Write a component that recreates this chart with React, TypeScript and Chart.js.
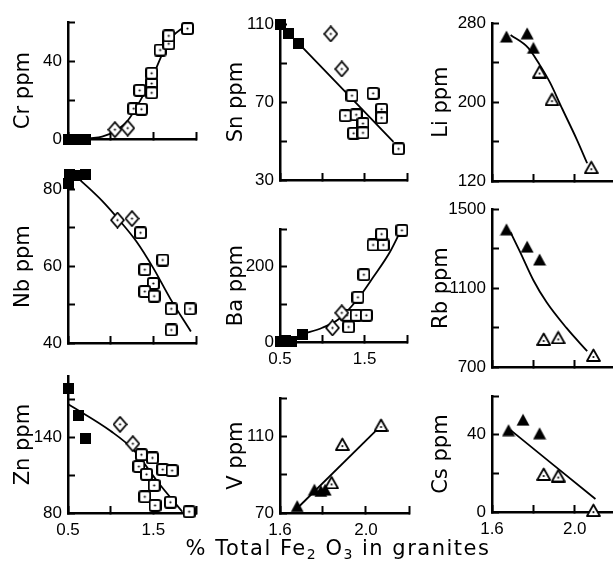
import React, { useEffect, useRef } from "react";
import { Chart, registerables } from "chart.js";
Chart.register(...registerables);

type Pt = [number, number];

// ---------- data (x = % total Fe2O3, y = ppm) ----------
// Cr
const crBlackSquares: Pt[] = [[0.5, 0], [0.6, 0], [0.71, 0]];
const crDiamonds: Pt[] = [[1.05, 4.8], [1.2, 5.6]];
const crSquares: Pt[] = [[1.27, 15.6], [1.36, 15.3], [1.34, 25], [1.48, 28.5], [1.48, 23.7], [1.48, 33.8], [1.58, 45.7], [1.68, 48.9], [1.68, 53], [1.9, 56.7]];
const crTrend: Pt[] = [[0.75, 0.3], [0.9, 1.2], [1.05, 4], [1.2, 9.5], [1.35, 20], [1.5, 33], [1.62, 45], [1.72, 52.5], [1.85, 57.3]];
// Sn
const snBlackSquares: Pt[] = [[0.5, 110], [0.6, 105], [0.72, 100]];
const snDiamonds: Pt[] = [[1.1, 105], [1.23, 87]];
const snSquares: Pt[] = [[1.35, 73.3], [1.6, 74.5], [1.27, 63], [1.4, 63.5], [1.48, 59], [1.7, 66.3], [1.7, 61.9], [1.37, 54], [1.48, 54.2], [1.9, 46]];
const snTrend: Pt[] = [[0.68, 102], [1.84, 49.6]];
// Li
const liFilledTri: Pt[] = [[1.67, 266.5], [1.77, 269.7], [1.8, 255]];
const liOpenTri: Pt[] = [[1.83, 231], [1.89, 203], [2.08, 134]];
const liTrend: Pt[] = [[1.69, 268], [1.775, 255], [1.83, 238], [1.88, 220], [1.94, 193], [2.01, 162], [2.06, 138]];
// Nb
const nbBlackSquares: Pt[] = [[0.5, 81.5], [0.52, 84], [0.6, 83.5], [0.71, 84]];
const nbDiamonds: Pt[] = [[1.08, 72], [1.25, 72.4]];
const nbSquares: Pt[] = [[1.35, 68.7], [1.61, 61.6], [1.4, 59.1], [1.5, 55.5], [1.4, 53.4], [1.51, 52.2], [1.71, 48.9], [1.93, 48.9], [1.71, 43.4]];
const nbTrend: Pt[] = [[0.64, 82.5], [0.9, 77], [1.1, 72], [1.3, 66.5], [1.5, 59.5], [1.7, 51.5], [1.94, 43]];
// Ba
const baBlackSquares: Pt[] = [[0.5, 2], [0.57, 5], [0.64, 2], [0.76, 20]];
const baDiamonds: Pt[] = [[1.12, 37.5], [1.23, 77.5]];
const baSquares: Pt[] = [[1.31, 40], [1.29, 71], [1.4, 71], [1.52, 71], [1.42, 119], [1.49, 179], [1.6, 258], [1.72, 258], [1.7, 287], [1.94, 297]];
const baTrend: Pt[] = [[0.78, 22], [1.0, 38], [1.2, 62], [1.42, 115], [1.6, 172], [1.8, 240], [1.93, 298]];
// Rb
const rbFilledTri: Pt[] = [[1.67, 1398], [1.77, 1310], [1.83, 1245]];
const rbOpenTri: Pt[] = [[1.85, 842], [1.92, 850], [2.09, 761]];
const rbTrend: Pt[] = [[1.69, 1382], [1.735, 1285], [1.8, 1140], [1.864, 1028], [1.96, 898], [2.06, 780]];
// Zn
const znBlackSquares: Pt[] = [[0.5, 178.5], [0.62, 157], [0.71, 139]];
const znDiamonds: Pt[] = [[1.11, 150], [1.26, 134.7]];
const znSquares: Pt[] = [[1.36, 126], [1.49, 123.5], [1.33, 116.7], [1.42, 110.5], [1.61, 114.3], [1.72, 113.5], [1.51, 101.8], [1.4, 92.8], [1.52, 86], [1.7, 88.5], [1.92, 81]];
const znTrend: Pt[] = [[0.5, 166], [1.0, 144.7], [1.27, 129.7], [1.55, 104.7], [1.84, 81]];
// V
const vFilledTri: Pt[] = [[1.68, 73.6], [1.76, 82.2], [1.79, 81.5], [1.81, 82.2]];
const vOpenTri: Pt[] = [[1.84, 86], [1.89, 106], [2.07, 116]];
const vTrend: Pt[] = [[1.685, 73], [2.05, 113.5]];
// Cs
const csFilledTri: Pt[] = [[1.68, 42.4], [1.75, 47.8], [1.83, 40.8]];
const csOpenTri: Pt[] = [[1.85, 19.7], [1.92, 18.9], [2.09, 1]];
const csTrend: Pt[] = [[1.69, 42.4], [2.1, 6.7]];

// ---------- tick labels ----------
const noLabels: number[] = [];
const lowFeXLabels = [0.5, 1.5];
const highFeXLabels = [1.6, 2.0];
const crYLabels = [0, 40];
const snYLabels = [30, 70, 110];
const liYLabels = [120, 200, 280];
const nbYLabels = [40, 60, 80];
const baYLabels = [0, 200];
const rbYLabels = [700, 1100, 1500];
const znYLabels = [80, 140];
const vYLabels = [70, 110];
const csYLabels = [0, 40];

// ---------- layout ----------
type SetSpec = [string, Pt[]];
interface PanelSpec {
  title: string;
  L: number; T: number; R: number; B: number;
  x: [number, number, number]; xLab: number[]; xDec: number;
  y: [number, number, number]; yLab: number[];
  titleX: number;
  sets: SetSpec[];
  trend: Pt[];
}

const PANELS: PanelSpec[] = [
  { title: "Cr ppm   ", L: 68, T: 15, R: 196, B: 139, x: [0.5, 2.0, 0.5], xLab: noLabels, xDec: 1, y: [0, 60, 20], yLab: crYLabels, titleX: 44,
    sets: [["fsq", crBlackSquares], ["odia", crDiamonds], ["osq", crSquares]], trend: crTrend },
  { title: "Sn ppm", L: 280, T: 17, R: 407, B: 180, x: [0.5, 2.0, 0.5], xLab: noLabels, xDec: 1, y: [30, 110, 20], yLab: snYLabels, titleX: 43,
    sets: [["fsq", snBlackSquares], ["odia", snDiamonds], ["osq", snSquares]], trend: snTrend },
  { title: "Li ppm", L: 492, T: 16, R: 612, B: 181, x: [1.6, 2.18, 0.2], xLab: noLabels, xDec: 1, y: [120, 280, 40], yLab: liYLabels, titleX: 50,
    sets: [["ftri", liFilledTri], ["otri", liOpenTri]], trend: liTrend },
  { title: "Nb ppm   ", L: 68, T: 163, R: 196, B: 343, x: [0.5, 2.0, 0.5], xLab: noLabels, xDec: 1, y: [40, 85, 10], yLab: nbYLabels, titleX: 44,
    sets: [["fsq", nbBlackSquares], ["odia", nbDiamonds], ["osq", nbSquares]], trend: nbTrend },
  { title: "Ba ppm", L: 280, T: 222, R: 407, B: 342, x: [0.5, 2.0, 0.5], xLab: lowFeXLabels, xDec: 1, y: [0, 300, 100], yLab: baYLabels, titleX: 43,
    sets: [["fsq", baBlackSquares], ["odia", baDiamonds], ["osq", baSquares]], trend: baTrend },
  { title: "Rb ppm", L: 492, T: 202, R: 612, B: 367, x: [1.6, 2.18, 0.2], xLab: noLabels, xDec: 1, y: [700, 1500, 200], yLab: rbYLabels, titleX: 50,
    sets: [["ftri", rbFilledTri], ["otri", rbOpenTri]], trend: rbTrend },
  { title: "Zn ppm", L: 68, T: 369, R: 196, B: 513, x: [0.5, 2.0, 0.5], xLab: lowFeXLabels, xDec: 1, y: [80, 188, 30], yLab: znYLabels, titleX: 44,
    sets: [["fsq", znBlackSquares], ["odia", znDiamonds], ["osq", znSquares]], trend: znTrend },
  { title: "V ppm", L: 280, T: 391, R: 409, B: 513, x: [1.6, 2.2, 0.2], xLab: highFeXLabels, xDec: 1, y: [70, 130, 20], yLab: vYLabels, titleX: 43,
    sets: [["ftri", vFilledTri], ["otri", vOpenTri]], trend: vTrend },
  { title: "Cs ppm", L: 492, T: 389, R: 612, B: 512, x: [1.6, 2.18, 0.2], xLab: highFeXLabels, xDec: 1, y: [0, 60, 20], yLab: csYLabels, titleX: 50,
    sets: [["ftri", csFilledTri], ["otri", csOpenTri]], trend: csTrend },
];

const PAD_L = 80, PAD_T = 16, PAD_R = 16, PAD_B = 36;
const TICK_FONT = { family: "'Liberation Sans', Arial, sans-serif", size: 17 };
const TITLE_FONT = { family: "'DejaVu Sans', sans-serif", size: 21 };

function makeMarker(kind: string): HTMLCanvasElement {
  const c = document.createElement("canvas");
  const dims: Record<string, [number, number]> = { fsq: [11, 11], osq: [13, 13], odia: [15, 17], ftri: [14, 13], otri: [15, 14] };
  const [w, h] = dims[kind];
  c.width = w; c.height = h;
  const g = c.getContext("2d")!;
  g.strokeStyle = "#000"; g.fillStyle = "#000"; g.lineJoin = "round";
  const dot = (x: number, y: number) => { g.fillStyle = "#000"; g.beginPath(); g.arc(x, y, 1.1, 0, Math.PI * 2); g.fill(); };
  if (kind === "fsq") {
    g.fillRect(0, 0, w, h);
  } else if (kind === "osq") {
    g.fillStyle = "#fff"; g.lineWidth = 2;
    g.beginPath(); (g as any).roundRect(1, 1, 11, 11, 2); g.fill(); g.stroke();
    dot(6.5, 6.5);
  } else if (kind === "odia") {
    g.fillStyle = "#fff"; g.lineWidth = 1.8;
    g.beginPath(); g.moveTo(7.5, 1); g.lineTo(14, 8.5); g.lineTo(7.5, 16); g.lineTo(1, 8.5); g.closePath(); g.fill(); g.stroke();
    dot(7.5, 8.5);
  } else if (kind === "ftri") {
    g.beginPath(); g.moveTo(7, 0.5); g.lineTo(13.5, 12.5); g.lineTo(0.5, 12.5); g.closePath(); g.fill();
  } else {
    g.fillStyle = "#fff"; g.lineWidth = 1.8;
    g.beginPath(); g.moveTo(7.5, 1.5); g.lineTo(14, 13); g.lineTo(1, 13); g.closePath(); g.fill(); g.stroke();
    dot(7.5, 9);
  }
  return c;
}

const near = (arr: number[], v: number) => arr.some((a) => Math.abs(a - v) < 1e-6);

// tick marks at min, min+step, ... up to max (axis range from the spec)
function stepTicks(range: [number, number, number]) {
  const [mn, mx, st] = range;
  const out: { value: number }[] = [];
  for (let i = 0; mn + i * st <= mx + 1e-9; i++) out.push({ value: +(mn + i * st).toFixed(6) });
  return out;
}

function Panel({ spec }: { spec: PanelSpec }) {
  const ref = useRef<HTMLCanvasElement>(null);
  const w = spec.R - spec.L + PAD_L + PAD_R;
  const h = spec.B - spec.T + PAD_T + PAD_B;
  useEffect(() => {
    const canvas = ref.current!;
    const datasets: any[] = spec.sets.map(([kind, pts]) => ({
      data: pts.map(([x, y]) => ({ x, y })),
      pointStyle: makeMarker(kind),
      pointRadius: 6,
      showLine: false,
      clip: false,
    }));
    datasets.push({
      data: spec.trend.map(([x, y]) => ({ x, y })),
      showLine: true,
      pointRadius: 0,
      borderColor: "#000",
      borderWidth: 1.8,
      tension: 0.4,
      cubicInterpolationMode: "monotone",
      fill: false,
      clip: false,
    });
    const gridOpts = { drawOnChartArea: false, drawTicks: true, tickLength: -7, tickWidth: 2, tickColor: "#000", color: "#000" };
    const chart = new Chart(canvas, {
      type: "scatter",
      data: { datasets },
      options: {
        responsive: false,
        animation: false,
        devicePixelRatio: 1,
        events: [],
        layout: { padding: { left: 0, top: PAD_T, right: PAD_R, bottom: 0 } },
        plugins: { legend: { display: false }, tooltip: { enabled: false } },
        scales: {
          x: {
            type: "linear",
            position: "bottom",
            min: spec.x[0],
            max: spec.x[1],
            afterFit: (s: any) => { s.height = PAD_B; },
            afterBuildTicks: (s: any) => { s.ticks = stepTicks(spec.x); },
            ticks: {
              autoSkip: false,
              maxRotation: 0,
              padding: 14,
              color: "#000",
              font: TICK_FONT,
              callback: (v: any) => (near(spec.xLab, Number(v)) ? Number(v).toFixed(spec.xDec) : ""),
            },
            grid: gridOpts,
            border: { display: true, color: "#000", width: 2.5 },
          },
          y: {
            type: "linear",
            position: "left",
            min: spec.y[0],
            max: spec.y[1],
            afterFit: (s: any) => { s.width = PAD_L; },
            afterBuildTicks: (s: any) => { s.ticks = stepTicks(spec.y); },
            ticks: {
              autoSkip: false,
              padding: 13,
              color: "#000",
              font: TICK_FONT,
              callback: (v: any) => (near(spec.yLab, Number(v)) ? String(Math.round(Number(v))) : ""),
            },
            grid: gridOpts,
            border: { display: true, color: "#000", width: 2.5 },
            title: {
              display: true,
              text: spec.title,
              color: "#000",
              font: TITLE_FONT,
              padding: { top: PAD_L - spec.titleX - 12.6, bottom: 0 },
            },
          },
        },
      } as any,
    });
    return () => chart.destroy();
  }, []);
  return (
    <canvas
      ref={ref}
      width={w}
      height={h}
      style={{ position: "absolute", left: spec.L - PAD_L, top: spec.T - PAD_T, width: w, height: h }}
    />
  );
}

export default function App() {
  return (
    <div style={{ position: "absolute", left: 0, top: 0, width: 614, height: 564, overflow: "hidden", background: "#fff" }}>
      {PANELS.map((p, i) => (
        <Panel key={i} spec={p} />
      ))}
      <div
        style={{
          position: "absolute",
          left: 338,
          top: 538,
          transform: "translateX(-50%)",
          whiteSpace: "nowrap",
          fontFamily: "'DejaVu Sans', sans-serif",
          fontSize: 21,
          letterSpacing: "1.5px",
          lineHeight: "21px",
          color: "#000",
        }}
      >
        % Total Fe<sub style={{ fontSize: 14, verticalAlign: "-4px", lineHeight: 0 }}>2</sub> O
        <sub style={{ fontSize: 14, verticalAlign: "-4px", lineHeight: 0 }}>3</sub> in granites
      </div>
    </div>
  );
}
